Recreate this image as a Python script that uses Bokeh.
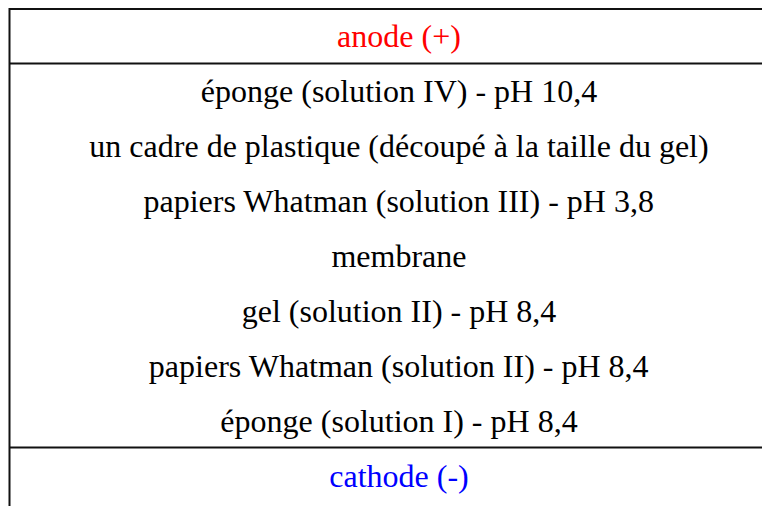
from bokeh.plotting import figure
from bokeh.models import Range1d
from bokeh.core.properties import value
from bokeh.embed import file_html
from bokeh.resources import INLINE

labels = [
    "anode (+)",
    "éponge (solution IV) - pH 10,4",
    "un cadre de plastique (découpé à la taille du gel)",
    "papiers Whatman (solution III) - pH 3,8",
    "membrane",
    "gel (solution II) - pH 8,4",
    "papiers Whatman (solution II) - pH 8,4",
    "éponge (solution I) - pH 8,4",
    "cathode (-)",
]
colors = ["#ff0000"] + ["#000000"] * 7 + ["#0000ff"]

W, H = 762, 506
p = figure(width=W, height=H, output_backend="svg", toolbar_location=None,
           x_range=Range1d(0, W), y_range=Range1d(H, 0), min_border=0)
p.axis.visible = False
p.grid.visible = False
p.outline_line_color = None
p.background_fill_color = "white"

top = 35.0
step = 55.1
ys = [top + step * i for i in range(len(labels))]
xs = [398.5] * len(labels)
p.text(x=xs, y=ys, text=labels, text_color=colors,
       text_font=value("Liberation Serif"),
       text_font_size="32px", text_align="center", text_baseline="middle")

# border lines
p.segment(x0=[9, 9, 9, 9], y0=[8.5, 63, 447, 7.5],
          x1=[W, W, W, 9], y1=[8.5, 63, 447, H],
          line_color="#111111", line_width=2)

open("out.html", "w").write(file_html(p, INLINE))
